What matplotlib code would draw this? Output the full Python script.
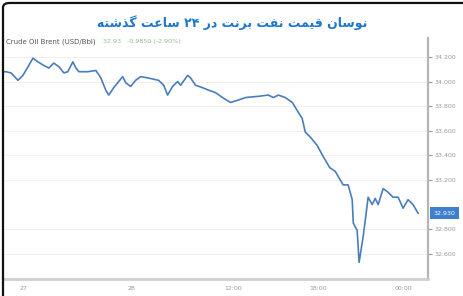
import matplotlib
matplotlib.use('Agg')
import matplotlib.pyplot as plt
from matplotlib.patches import FancyBboxPatch

# ساعت (از ابتدای بازه ۲۴ ساعته) و قیمت نفت برنت
hours = [0.00, 0.11, 0.40, 0.79, 1.07, 1.36, 1.64, 1.92, 2.26, 2.54,
         2.82, 3.11, 3.39, 3.61, 3.90, 4.07, 4.24, 4.74, 5.20, 5.48,
         5.76, 5.93, 6.21, 6.49, 6.72, 6.89, 7.17, 7.45, 7.74, 8.13,
         8.75, 9.04, 9.26, 9.54, 9.83, 10.00, 10.39, 10.56, 10.84, 11.24,
         11.58, 11.97, 12.37, 12.82, 13.27, 13.67, 14.40, 14.96, 15.25, 15.53,
         15.92, 16.32, 16.66, 16.88, 17.05, 17.33, 17.73, 18.07, 18.44, 18.75,
         19.03, 19.20, 19.48, 19.71, 19.77, 19.99, 20.10, 20.33, 20.50, 20.61,
         20.84, 21.01, 21.18, 21.46, 21.74, 22.02, 22.31, 22.59, 22.87, 23.15,
         23.44]
price = [34.08, 34.08, 34.07, 34.01, 34.05, 34.12, 34.19, 34.16, 34.13, 34.11,
         34.15, 34.12, 34.07, 34.08, 34.16, 34.11, 34.08, 34.08, 34.09, 34.03,
         33.93, 33.89, 33.95, 34.00, 34.04, 33.99, 33.96, 34.01, 34.04, 34.03,
         34.01, 33.97, 33.89, 33.96, 34.00, 33.97, 34.05, 34.03, 33.97, 33.95,
         33.93, 33.91, 33.87, 33.83, 33.85, 33.87, 33.88, 33.89, 33.87, 33.89,
         33.87, 33.83, 33.75, 33.70, 33.59, 33.55, 33.48, 33.39, 33.30, 33.27,
         33.20, 33.16, 33.16, 33.04, 32.85, 32.79, 32.53, 32.74, 32.93, 33.06,
         33.00, 33.05, 33.00, 33.13, 33.10, 33.06, 33.06, 32.97, 33.04, 33.00,
         32.93]

y_ticks = [34.2, 34.0, 33.8, 33.6, 33.4, 33.2, 32.8, 32.6]
x_tick_pos = [1.1, 7.2, 13.0, 17.8, 22.6]
x_tick_labels = ['27', '28', '12:00', '18:00', '00:00']

title = 'نوسان قیمت نفت برنت در ۲۴ ساعت گذشته'
header = 'Crude Oil Brent (USD/Bbl)'
header_vals = '32.93   -0.9850 (-2.90%)'

# شکل‌های حروف عربی/فارسی: تنها، پایانی، آغازی، میانی
forms = {
    'ا': ('\ufe8d', '\ufe8e', None, None),
    'ب': ('\ufe8f', '\ufe90', '\ufe91', '\ufe92'),
    'ت': ('\ufe95', '\ufe96', '\ufe97', '\ufe98'),
    'د': ('\ufea9', '\ufeaa', None, None),
    'ذ': ('\ufeab', '\ufeac', None, None),
    'ر': ('\ufead', '\ufeae', None, None),
    'س': ('\ufeb1', '\ufeb2', '\ufeb3', '\ufeb4'),
    'ش': ('\ufeb5', '\ufeb6', '\ufeb7', '\ufeb8'),
    'ع': ('\ufec9', '\ufeca', '\ufecb', '\ufecc'),
    'ف': ('\ufed1', '\ufed2', '\ufed3', '\ufed4'),
    'ق': ('\ufed5', '\ufed6', '\ufed7', '\ufed8'),
    'م': ('\ufee1', '\ufee2', '\ufee3', '\ufee4'),
    'ن': ('\ufee5', '\ufee6', '\ufee7', '\ufee8'),
    'ه': ('\ufee9', '\ufeea', '\ufeeb', '\ufeec'),
    'و': ('\ufeed', '\ufeee', None, None),
    'ی': ('\ufbfc', '\ufbfd', '\ufbfe', '\ufbff'),
    'گ': ('\ufb92', '\ufb93', '\ufb94', '\ufb95'),
}


def shape_word(w):
    out = []
    for i, ch in enumerate(w):
        if ch not in forms:
            out.append(ch)
            continue
        prev = w[i-1] if i > 0 else ''
        nxt = w[i+1] if i + 1 < len(w) else ''
        jp = prev in forms and forms[prev][2] is not None
        jn = nxt in forms and forms[ch][2] is not None
        iso, fin, ini, med = forms[ch]
        if jp and jn:
            out.append(med)
        elif jp:
            out.append(fin)
        elif jn:
            out.append(ini)
        else:
            out.append(iso)
    return ''.join(out)


def rtl(s):
    words = []
    for w in reversed(s.split(' ')):
        if w[0] in '۰۱۲۳۴۵۶۷۸۹':
            words.append(w)
        else:
            words.append(shape_word(w)[::-1])
    return ' '.join(words)


fig = plt.figure(figsize=(4.64, 2.96), dpi=100)
fig.patch.set_facecolor('white')

# قاب سیاه دور تصویر
frame = FancyBboxPatch((3 / 464, -0.05), 1.1, 1.04, boxstyle='round,pad=0,rounding_size=0.015',
                       transform=fig.transFigure, facecolor='none', edgecolor='#111111', lw=1.6)
fig.patches.append(frame)

ax = fig.add_axes([4 / 464, 1 - 279 / 296, 424 / 464, 241 / 296])
ax.plot(hours, price, color='#4a7dbd', lw=1.2)
ax.set_xlim(0, 24)
ax.set_ylim(32.395, 34.354)

for v in y_ticks:
    ax.axhline(v, color='#f3ece4', lw=0.6, zorder=0)

ax.yaxis.tick_right()
ax.set_yticks(y_ticks)
ax.set_yticklabels(['%.3f' % v for v in y_ticks])
ax.tick_params(axis='y', length=3, width=0.8, color='#999999', labelsize=4.5,
               labelcolor='#999999', pad=2)
ax.set_xticks(x_tick_pos)
ax.set_xticklabels(x_tick_labels)
ax.tick_params(axis='x', length=0, labelsize=4.5, labelcolor='#999999', pad=5)

ax.spines['left'].set_visible(False)
ax.spines['top'].set_visible(False)
ax.spines['right'].set_color('#b5b5b5')
ax.spines['right'].set_linewidth(1.6)
ax.spines['bottom'].set_color('#cfcfcf')
ax.spines['bottom'].set_linewidth(2)

# برچسب قیمت فعلی
ax.annotate('%.3f' % price[-1], xy=(1, price[-1]), xycoords=('axes fraction', 'data'),
            xytext=(4, 0), textcoords='offset points', va='center', ha='left',
            fontsize=4.5, color='white',
            bbox=dict(boxstyle='square,pad=0.6', fc='#3f7fcf', ec='none'),
            annotation_clip=False)

fig.text(0.5, 0.925, rtl(title), ha='center', va='center', fontsize=9,
         fontweight='bold', color='#1f76cc', family='DejaVu Sans')
fig.text(6 / 464, 1 - 42 / 296, header, ha='left', va='center', fontsize=5, color='#555555')
fig.text(103 / 464, 1 - 42 / 296, header_vals, ha='left', va='center', fontsize=4.6, color='#8fbf8f')

fig.savefig('out.png', dpi=100)
